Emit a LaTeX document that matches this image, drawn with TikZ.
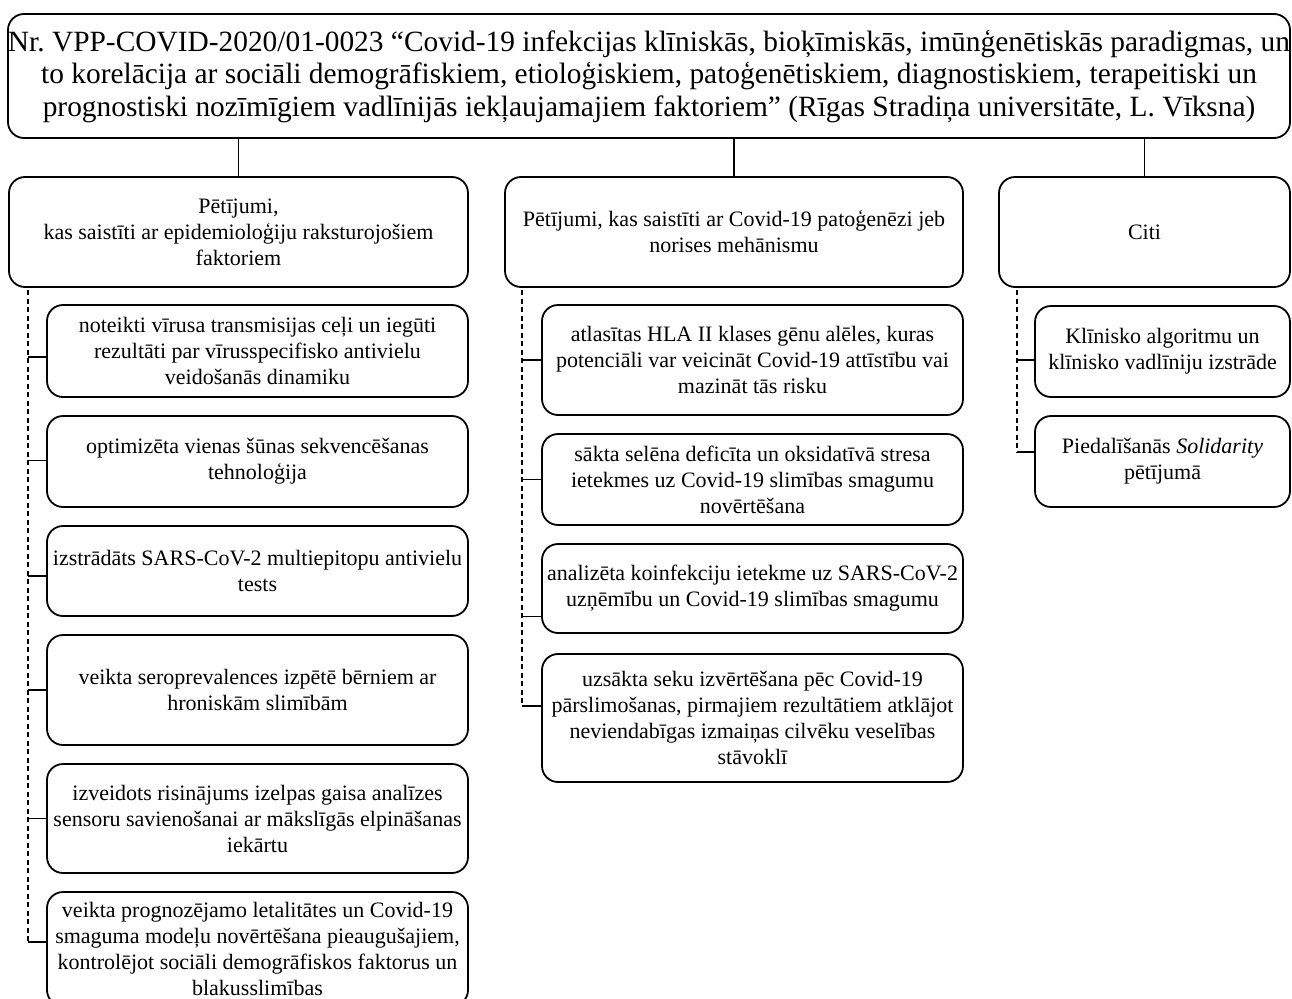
\documentclass[tikz,border=0pt]{standalone}
\usepackage{fontspec}
\setmainfont{Liberation Serif}
\frenchspacing
\begin{document}
\begin{tikzpicture}[x=1pt,y=-1pt,
  box/.style={draw, line width=1.8pt, rounded corners=16pt, align=center,
    inner sep=0pt, font=\fontsize{22}{26}\selectfont},
  stem/.style={line width=1.7pt},
  rail/.style={line width=1.2pt, dash pattern=on 5pt off 3.5pt},
]
\useasboundingbox (0,0) rectangle (1292,998);
\clip (0,0) rectangle (1292,998);

% project title
\node[box, minimum width=1282pt, minimum height=124pt,
  font=\fontsize{29.4}{32.5}\selectfont] (top) at (649,76)
  {Nr. VPP-COVID-2020/01-0023 “Covid-19 infekcijas klīniskās, bioķīmiskās, imūnģenētiskās paradigmas, un\\
   to korelācija ar sociāli demogrāfiskiem, etioloģiskiem, patoģenētiskiem, diagnostiskiem, terapeitiski un\\
   prognostiski nozīmīgiem vadlīnijās iekļaujamajiem faktoriem” (Rīgas Stradiņa universitāte, L. Vīksna)};

% three research directions
\node[box, minimum width=459pt, minimum height=110pt] (h1) at (238.5,232)
  {Pētījumi,\\kas saistīti ar epidemioloģiju raksturojošiem\\faktoriem};
\node[box, minimum width=458pt, minimum height=110pt] (h2) at (734,232)
  {Pētījumi, kas saistīti ar Covid-19 patoģenēzi jeb\\norises mehānismu};
\node[box, minimum width=291pt, minimum height=110pt] (h3) at (1144.5,232)
  {Citi};

\draw[stem] (h1.north) -- (h1.north |- top.south);
\draw[stem] (h2.north) -- (h2.north |- top.south);
\draw[stem] (h3.north) -- (h3.north |- top.south);

% epidemiology results
\node[box, minimum width=421pt, minimum height=92pt] (c1) at (257.5,351)
  {noteikti vīrusa transmisijas ceļi un iegūti\\rezultāti par vīrusspecifisko antivielu\\veidošanās dinamiku};
\node[box, minimum width=421pt, minimum height=91pt] (c2) at (257.5,461.5)
  {optimizēta vienas šūnas sekvencēšanas\\tehnoloģija};
\node[box, minimum width=421pt, minimum height=90pt] (c3) at (257.5,571)
  {izstrādāts SARS-CoV-2 multiepitopu antivielu\\tests};
\node[box, minimum width=421pt, minimum height=110pt] (c4) at (257.5,690)
  {veikta seroprevalences izpētē bērniem ar\\hroniskām slimībām};
\node[box, minimum width=421pt, minimum height=109pt] (c5) at (257.5,818.5)
  {izveidots risinājums izelpas gaisa analīzes\\sensoru savienošanai ar mākslīgās elpināšanas\\iekārtu};
\node[box, minimum width=421pt, minimum height=114pt] (c6) at (257.5,949)
  {veikta prognozējamo letalitātes un Covid-19\\smaguma modeļu novērtēšana pieaugušajiem,\\kontrolējot sociāli demogrāfiskos faktorus un\\blakusslimības};

% pathogenesis results
\node[box, minimum width=421pt, minimum height=110pt] (d1) at (752.5,360)
  {atlasītas HLA II klases gēnu alēles, kuras\\potenciāli var veicināt Covid-19 attīstību vai\\mazināt tās risku};
\node[box, minimum width=421pt, minimum height=91pt] (d2) at (752.5,479.5)
  {sākta selēna deficīta un oksidatīvā stresa\\ietekmes uz Covid-19 slimības smagumu\\novērtēšana};
\node[box, minimum width=421pt, minimum height=89pt] (d3) at (752.5,588.5)
  {analizēta koinfekciju ietekme uz SARS-CoV-2\\uzņēmību un Covid-19 slimības smagumu};
\node[box, minimum width=421pt, minimum height=128pt] (d4) at (752.5,718)
  {uzsākta seku izvērtēšana pēc Covid-19\\pārslimošanas, pirmajiem rezultātiem atklājot\\neviendabīgas izmaiņas cilvēku veselības\\stāvoklī};

% other results
\node[box, minimum width=255pt, minimum height=91pt] (e1) at (1162.5,351.5)
  {Klīnisko algoritmu un\\klīnisko vadlīniju izstrāde};
\node[box, minimum width=255pt, minimum height=91pt] (e2) at (1162.5,461.5)
  {Piedalīšanās \textit{Solidarity}\\pētījumā};

% dashed rails with their branches
\coordinate (r1) at (28,290);
\coordinate (r2) at (522,290);
\coordinate (r3) at (1017,290);

\draw[rail] (r1) -- ([yshift=7pt]c6.west -| r1);
\draw[stem] ([yshift=-6pt]c1.west) -- ([yshift=-6pt]c1.west -| r1);
\draw[stem] ([yshift=1pt]c2.west) -- ([yshift=1pt]c2.west -| r1);
\draw[stem] ([yshift=-5pt]c3.west) -- ([yshift=-5pt]c3.west -| r1);
\draw[stem] (c4.west) -- (c4.west -| r1);
\draw[stem] (c5.west) -- (c5.west -| r1);
\draw[stem] ([yshift=7pt]c6.west) -- ([yshift=7pt]c6.west -| r1);

\draw[rail] (r2) -- ([yshift=12pt]d4.west -| r2);
\draw[stem] (d1.west) -- (d1.west -| r2);
\draw[stem] (d2.west) -- (d2.west -| r2);
\draw[stem] ([yshift=-28pt]d3.west) -- ([yshift=-28pt]d3.west -| r2);
\draw[stem] ([yshift=12pt]d4.west) -- ([yshift=12pt]d4.west -| r2);

\draw[rail] (r3) -- ([yshift=9.5pt]e2.west -| r3);
\draw[stem] ([yshift=-8.5pt]e1.west) -- ([yshift=-8.5pt]e1.west -| r3);
\draw[stem] ([yshift=9.5pt]e2.west) -- ([yshift=9.5pt]e2.west -| r3);
\end{tikzpicture}
\end{document}
